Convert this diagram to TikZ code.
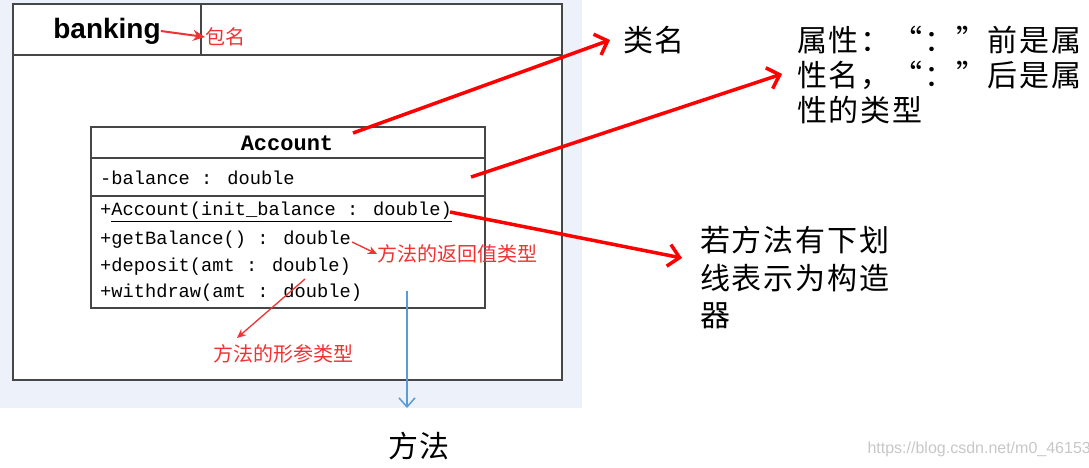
\documentclass[tikz,border=0pt]{standalone}
\usepackage{fontspec}
\setmainfont{Liberation Sans}
\newfontfamily\cjk{Noto Sans CJK SC}
\newfontfamily\cjkwide[LetterSpace=6]{Noto Sans CJK SC}
\newfontfamily\monof{Liberation Mono}
\usetikzlibrary{arrows.meta}
\definecolor{bgc}{RGB}{236,241,250}
\definecolor{frm}{RGB}{70,70,70}
\definecolor{redA}{RGB}{255,0,0}
\definecolor{redT}{RGB}{240,50,50}
\definecolor{blueA}{RGB}{91,155,213}
\tikzset{
  frame/.style={draw=frm,line width=1.4pt},
  bigarrow/.style={draw=redA,line width=3.5pt,-{Straight Barb[length=11pt,width=22pt,line width=3.5pt]}},
  smallarrow/.style={draw=redT,line width=1.3pt,-{Stealth[length=9pt,width=8pt]}},
  bluearrow/.style={draw=blueA,line width=1.5pt,-{Straight Barb[length=9pt,width=16pt,line width=1.5pt]}},
  redlabel/.style={text=redT,font=\cjk\fontsize{20}{22}\selectfont,inner sep=0pt,anchor=west},
  blacklabel/.style={text=black,font=\cjkwide\fontsize{30}{35}\selectfont,inner sep=0pt,anchor=west},
  monotext/.style={font=\monof\fontsize{18.7}{22}\selectfont,inner sep=0pt,anchor=west},
}
\begin{document}
\begin{tikzpicture}[x=1pt,y=-1pt]
\useasboundingbox (0,0) rectangle (1089,467);
\fill[bgc] (0,0) rectangle (582,408);
% package frame
\filldraw[frame,fill=white] (13,4) rectangle (562,380);
\draw[frame] (13,55) -- (562,55);
\draw[frame] (201,4) -- (201,55);
\node[inner sep=0pt,font=\bfseries\fontsize{28}{32}\selectfont] (pkg) at (107,31) {banking};
\node[redlabel] (pkgname) at (205,37) {包名};
\draw[draw=redT,line width=2pt,-{Stealth[length=12pt,width=11pt]}] (pkg.east) -- (pkgname.west);
% class box
\draw[frame,line width=1.2pt] (91,127) rectangle (485,308);
\draw[frame,line width=1.2pt] (91,158) -- (485,158);
\draw[frame,line width=1.2pt] (91,196) -- (485,196);
\node[inner sep=0pt,font=\monof\bfseries\fontsize{22}{24}\selectfont] (cname) at (287,143) {Account};
\node[monotext] (attr) at (100,178) {-balance : double};
\node[monotext] (m1) at (100,212) {+\underline{Account(init\_balance : double)}};
\node[monotext] (m2) at (100,240) {+getBalance() : double};
\node[monotext] (m3) at (100,267) {+deposit(amt : double)};
\node[monotext] (m4) at (100,293) {+withdraw(amt : double)};
% annotations
\node[blacklabel] (lblclass) at (623,40) {类名};
\node[blacklabel] (lblattr1) at (797,40) {属性：“：”前是属};
\node[blacklabel] (lblattr2) at (797,75) {性名，“：”后是属};
\node[blacklabel] (lblattr3) at (797,110) {性的类型};
\node[blacklabel] (lblctor1) at (700,240) {若方法有下划};
\node[blacklabel] (lblctor2) at (700,278) {线表示为构造};
\node[blacklabel] (lblctor3) at (700,316) {器};
\node[blacklabel] (lblmeth) at (388,446) {方法};
\node[redlabel] (lblret) at (377,254) {方法的返回值类型};
\node[redlabel] (lblparam) at (213,354) {方法的形参类型};
\coordinate (sClass) at (353,133);
\coordinate (tClass) at (610,40);
\coordinate (sAttr) at (471,177);
\coordinate (tAttr) at (782,74);
\coordinate (sCtor) at (450,212);
\coordinate (tCtor) at (682,258);
\coordinate (sRet) at (352,242);
\coordinate (sParam) at (305,279);
\coordinate (tParam) at (237,338);
\coordinate (sMeth) at (407,291);
\coordinate (tMeth) at (407,408);
\draw[bigarrow] (sClass) -- (tClass);
\draw[bigarrow] (sAttr) -- (tAttr);
\draw[bigarrow] (sCtor) -- (tCtor);
\draw[smallarrow] (sRet) -- (lblret.west);
\draw[smallarrow] (sParam) -- (tParam);
\draw[bluearrow] (sMeth) -- (tMeth);
\node[inner sep=0pt,anchor=east,text=black!22,font=\fontsize{16}{18}\selectfont] (wm) at (1091,449) {https://blog.csdn.net/m0\_46153};
\end{tikzpicture}
\end{document}
